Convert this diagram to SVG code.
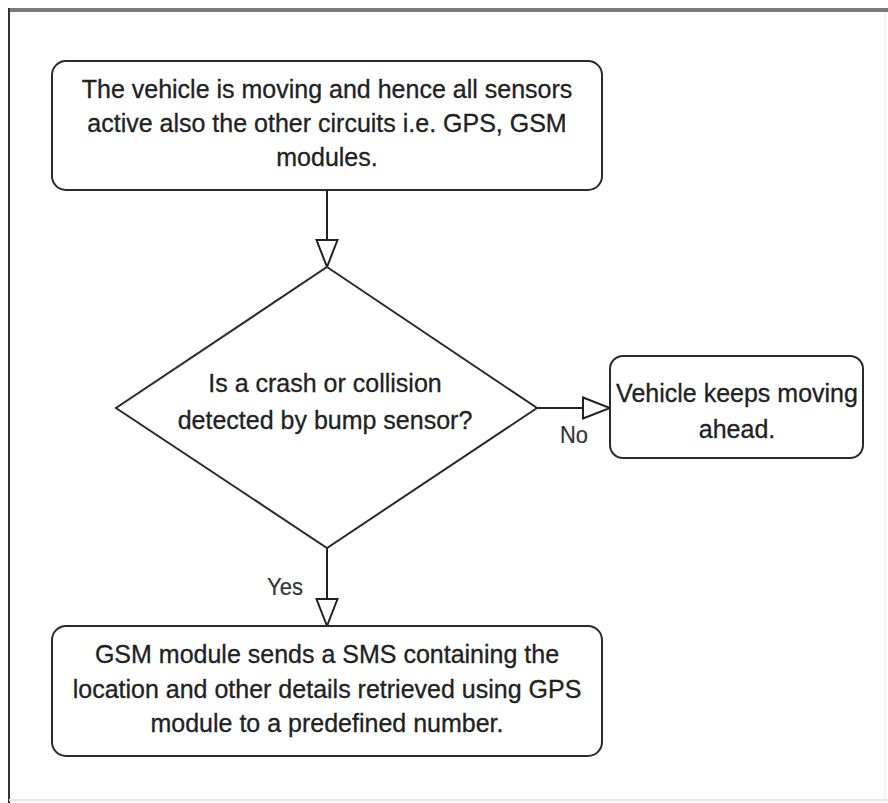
<svg xmlns="http://www.w3.org/2000/svg" width="888" height="803" viewBox="0 0 888 803">
  <style>
    .box { fill: #ffffff; stroke: #2a2a2a; stroke-width: 2; }
    .txt { font-family: "Liberation Sans", Arial, Helvetica, sans-serif; font-size: 25px; fill: #222222; stroke: #222222; stroke-width: 0.3; text-anchor: middle; }
    .lbl { font-family: "Liberation Sans", Arial, Helvetica, sans-serif; font-size: 24px; fill: #333333; stroke: #333333; stroke-width: 0.2; }
    .wire { fill: none; stroke: #222222; stroke-width: 2; }
  </style>
  <defs>
    <marker id="open-tri" markerUnits="userSpaceOnUse" markerWidth="30" markerHeight="24" viewBox="0 0 30 24" refX="28" refY="12" orient="auto">
      <path d="M1,1.5 L28,12 L1,22.5 Z" fill="#ffffff" stroke="#222222" stroke-width="2" stroke-linejoin="miter"/>
    </marker>
  </defs>

  <rect width="888" height="803" fill="#ffffff"/>

  <!-- page frame -->
  <g id="frame">
    <line x1="8" y1="10" x2="888" y2="10" stroke="#7a7a7a" stroke-width="4"/>
    <line x1="9" y1="8" x2="9" y2="803" stroke="#333333" stroke-width="2"/>
    <line x1="9" y1="800" x2="888" y2="800" stroke="#e6e6e6" stroke-width="2"/>
    <line x1="885" y1="12" x2="885" y2="800" stroke="#efefef" stroke-width="1.5"/>
  </g>

  <!-- connectors -->
  <g id="connectors">
    <line class="wire" x1="327" y1="191" x2="327" y2="267" marker-end="url(#open-tri)"/>
    <line class="wire" x1="537" y1="408" x2="610" y2="408" marker-end="url(#open-tri)"/>
    <line class="wire" x1="327" y1="548" x2="327" y2="626" marker-end="url(#open-tri)"/>
    <text class="lbl" x="560" y="443" textLength="28" lengthAdjust="spacingAndGlyphs">No</text>
    <text class="lbl" x="267" y="595" textLength="36" lengthAdjust="spacingAndGlyphs">Yes</text>
  </g>

  <g id="start">
    <rect class="box" x="52" y="61" width="550" height="129" rx="14"/>
    <text class="txt" x="327" y="98">The vehicle is moving and hence all sensors</text>
    <text class="txt" x="327" y="132">active also the other circuits i.e. GPS, GSM</text>
    <text class="txt" x="327" y="166">modules.</text>
  </g>

  <g id="decision">
    <polygon class="box" points="327,267 537,408 327,548 116,408"/>
    <text class="txt" x="325" y="392">Is a crash or collision</text>
    <text class="txt" x="325" y="429">detected by bump sensor?</text>
  </g>

  <g id="keep-moving">
    <rect class="box" x="610" y="356" width="253" height="102" rx="13"/>
    <text class="txt" x="737" y="402">Vehicle keeps moving</text>
    <text class="txt" x="737" y="438">ahead.</text>
  </g>

  <g id="send-sms">
    <rect class="box" x="52" y="626" width="550" height="130" rx="14"/>
    <text class="txt" x="327" y="663">GSM module sends a SMS containing the</text>
    <text class="txt" x="327" y="698">location and other details retrieved using GPS</text>
    <text class="txt" x="327" y="732">module to a predefined number.</text>
  </g>
</svg>
